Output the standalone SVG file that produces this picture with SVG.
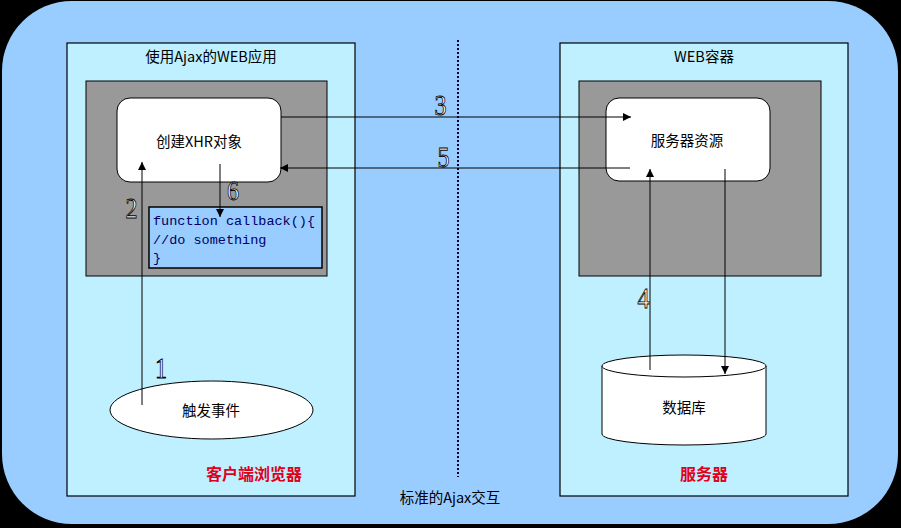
<svg xmlns="http://www.w3.org/2000/svg" width="901" height="528" viewBox="0 0 901 528">
<defs>
<marker id="arr" viewBox="0 0 10 10" refX="10" refY="5" markerWidth="9" markerHeight="8" markerUnits="userSpaceOnUse" orient="auto">
<path d="M0,0 L10,5 L0,10 z" fill="#000"/>
</marker>
</defs>
<style>
.panel{fill:#BFF0FF;stroke:#000;stroke-width:1.2}
.gray{fill:#999999;stroke:#000;stroke-width:1}
.node{fill:#fff;stroke:#000;stroke-width:1}
.cjk{font-family:"Noto Sans CJK SC","Liberation Sans",sans-serif;font-size:14.5px;fill:#000}
.red{font-family:"Noto Sans CJK SC","Liberation Sans",sans-serif;font-size:16px;font-weight:bold;fill:#E0001B}
.code{font-family:"Liberation Mono",monospace;font-size:13.5px;fill:#000066}
.num{font-family:"Liberation Serif",serif;font-size:30px;fill:#fff;stroke:#000;stroke-width:0.9;text-anchor:middle}
.conn{stroke:#000;stroke-width:1;fill:none}
</style>
<rect x="0" y="0" width="901" height="528" fill="#000"/>
<rect x="2" y="1" width="896" height="523" rx="70" ry="70" fill="#99CCFF"/>
<line x1="458" y1="40" x2="458" y2="477" stroke="#000033" stroke-width="2" stroke-dasharray="2,2"/>
<text x="450" y="503" class="cjk" text-anchor="middle">标准的Ajax交互</text>

<g id="client">
<rect class="panel" x="67" y="43" width="288" height="453"/>
<text x="211" y="62" class="cjk" text-anchor="middle">使用Ajax的WEB应用</text>
<rect class="gray" x="86" y="81" width="241" height="195"/>
<text x="254" y="480" class="red" text-anchor="middle">客户端浏览器</text>
</g>
<g id="xhr">
<rect class="node" x="117" y="98" width="164" height="84" rx="13" ry="13"/>
<text x="199" y="147" class="cjk" font-size="15" text-anchor="middle">创建XHR对象</text>
</g>
<g id="callback">
<rect x="149" y="207" width="173" height="61" fill="#99CCFF" stroke="#000" stroke-width="1.5"/>
<text x="153" y="225" class="code">function callback(){</text>
<text x="153" y="244" class="code">//do something</text>
<text x="153" y="262" class="code">}</text>
</g>
<g id="event">
<ellipse class="node" cx="211.5" cy="410" rx="101.5" ry="29"/>
<text x="211" y="416" class="cjk" font-size="15" text-anchor="middle">触发事件</text>
</g>

<g id="server">
<rect class="panel" x="560" y="43" width="288" height="453"/>
<text x="704" y="62" class="cjk" text-anchor="middle">WEB容器</text>
<rect class="gray" x="579" y="81" width="242" height="195"/>
<text x="704" y="480" class="red" text-anchor="middle">服务器</text>
</g>
<g id="resource">
<rect class="node" x="606" y="98" width="164" height="83" rx="13" ry="13"/>
<text x="687" y="146" class="cjk" font-size="15" text-anchor="middle">服务器资源</text>
</g>
<g id="db">
<path class="node" d="M602,366 L602,434 A82,11 0 0 0 766,434 L766,366"/>
<ellipse class="node" cx="684" cy="366" rx="82" ry="11"/>
<text x="684" y="413" class="cjk" font-size="15" text-anchor="middle">数据库</text>
</g>

<g id="connectors">
<line class="conn" x1="142" y1="405" x2="142" y2="162" marker-end="url(#arr)"/>
<line class="conn" x1="220" y1="164" x2="220" y2="217" marker-end="url(#arr)"/>
<line class="conn" x1="281" y1="117" x2="631" y2="117" marker-end="url(#arr)"/>
<line class="conn" x1="630" y1="168" x2="280" y2="168" marker-end="url(#arr)"/>
<line class="conn" x1="650" y1="370" x2="650" y2="169" marker-end="url(#arr)"/>
<line class="conn" x1="725" y1="169" x2="725" y2="374" marker-end="url(#arr)"/>
<text transform="translate(161,378) scale(0.8,1)" class="num">1</text>
<text transform="translate(131.5,218) scale(0.8,1)" class="num">2</text>
<text transform="translate(440.5,115) scale(0.8,1)" class="num">3</text>
<text transform="translate(643.5,308) scale(0.8,1)" class="num">4</text>
<text transform="translate(443.5,167) scale(0.8,1)" class="num">5</text>
<text transform="translate(233,200) scale(0.8,0.9)" class="num">6</text>
</g>
</svg>
